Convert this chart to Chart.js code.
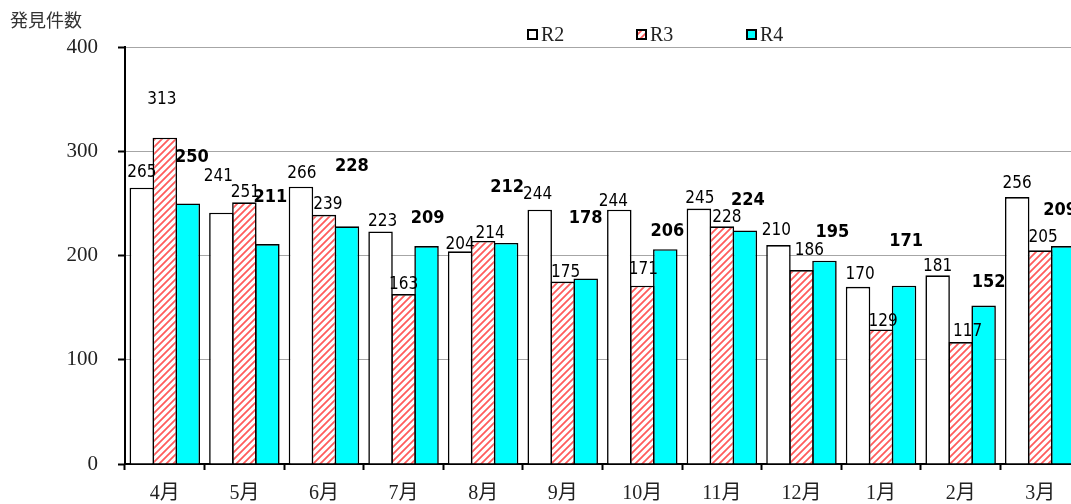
<!DOCTYPE html>
<html lang="ja">
<head>
<meta charset="utf-8">
<title>発見件数</title>
<script src="https://cdn.jsdelivr.net/npm/chart.js@4.4.0/dist/chart.umd.min.js"></script>
<style>
    body { margin: 0; background: #fff; overflow: hidden; }
    #wrap { width: 1080px; height: 504px; }
</style>
</head>
<body>
<div id="wrap"><canvas id="hakkenChart" width="1080" height="504"></canvas></div>
<script>
        const months = ['4月', '5月', '6月', '7月', '8月', '9月', '10月', '11月', '12月', '1月', '2月', '3月'];
        const r2Values = [265, 241, 266, 223, 204, 244, 244, 245, 210, 170, 181, 256];
        const r3Values = [313, 251, 239, 163, 214, 175, 171, 228, 186, 129, 117, 205];
        const r4Values = [250, 211, 228, 209, 212, 178, 206, 224, 195, 171, 152, 209];
        const yTicks = [0, 100, 200, 300, 400];

        // where each value label sits relative to its bar top: [dx, lift]
        const r2LabelShift = [[0, 15], [-3, 36], [1, 13], [2, 10], [0, 7], [-2, 15], [-6, 8], [1, 10], [-2, 14], [2, 12], [0, 9], [0, 14]];
        const r3LabelShift = [[-3, 38], [1, 10], [4, 10], [0, 9], [7, 7], [3, 9], [1, 16], [5, 9], [8, 20], [2, 8], [7, 10], [3, 13]];
        const r4LabelShift = [[4, 46], [3, 47], [5, 60], [1, 28], [1, 56], [0, 60], [2, 18], [3, 30], [8, 28], [2, 44], [5, 23], [-3, 36]];

        const chartCanvas = document.getElementById('hakkenChart');

        function makeHatch() {
            const tile = document.createElement('canvas');
            tile.width = 7;
            tile.height = 7;
            const c = tile.getContext('2d');
            c.fillStyle = '#ffffff';
            c.fillRect(0, 0, 7, 7);
            c.strokeStyle = '#ff5c5c';
            c.lineWidth = 1.8;
            c.beginPath();
            c.moveTo(-1, 8); c.lineTo(8, -1);
            c.moveTo(-4.5, 4.5); c.lineTo(4.5, -4.5);
            c.moveTo(2.5, 11.5); c.lineTo(11.5, 2.5);
            c.stroke();
            return chartCanvas.getContext('2d').createPattern(tile, 'repeat');
        }

        const hatch = makeHatch();

        const valueLabels = {
            id: 'valueLabels',
            afterDatasetsDraw(chart) {
                const ctx = chart.ctx;
                const shifts = [r2LabelShift, r3LabelShift, r4LabelShift];
                ctx.save();
                ctx.textAlign = 'center';
                ctx.textBaseline = 'middle';
                ctx.fillStyle = '#000';
                chart.data.datasets.forEach((ds, di) => {
                    const meta = chart.getDatasetMeta(di);
                    ctx.font = di === 2
                        ? 'bold 18px "DejaVu Sans Condensed", "DejaVu Sans", sans-serif'
                        : '17px "DejaVu Sans Condensed", "DejaVu Sans", sans-serif';
                    meta.data.forEach((bar, i) => {
                        const s = shifts[di][i];
                        ctx.fillText(String(ds.data[i]), bar.x + s[0], bar.y - s[1]);
                    });
                });
                ctx.restore();
            }
        };

        const headerBits = {
            id: 'headerBits',
            afterDraw(chart) {
                const ctx = chart.ctx;
                ctx.save();
                ctx.fillStyle = '#333';
                ctx.font = '18px "Noto Sans CJK JP", sans-serif';
                ctx.textBaseline = 'middle';
                ctx.textAlign = 'left';
                ctx.fillText('発見件数', 10, 20);

                // legend
                const legendX = [528, 637, 747];
                chart.data.datasets.forEach((ds, i) => {
                    const x = legendX[i];
                    ctx.fillStyle = ds.backgroundColor;
                    ctx.fillRect(x, 30, 9, 9);
                    ctx.strokeStyle = '#000';
                    ctx.lineWidth = 2;
                    ctx.strokeRect(x, 30, 9, 9);
                    ctx.fillStyle = '#222';
                    ctx.font = '20px "Liberation Serif", serif';
                    ctx.fillText(ds.label, x + 13, 36);
                });
                ctx.restore();
            }
        };

        new Chart(chartCanvas, {
            type: 'bar',
            data: {
                labels: months,
                datasets: [
                    { label: 'R2', data: r2Values, backgroundColor: '#ffffff', borderColor: '#000', borderWidth: 1.6 },
                    { label: 'R3', data: r3Values, backgroundColor: hatch, borderColor: '#000', borderWidth: 1.6 },
                    { label: 'R4', data: r4Values, backgroundColor: '#00ffff', borderColor: '#000', borderWidth: 1.6 }
                ]
            },
            options: {
                responsive: false,
                animation: false,
                layout: { padding: { top: 47, left: 0, right: 0, bottom: 0 } },
                plugins: {
                    legend: { display: false },
                    tooltip: { enabled: false }
                },
                datasets: {
                    // bars slightly wider than their slot so neighbours share one border line
                    bar: { categoryPercentage: 0.867, barPercentage: 1.065 }
                },
                scales: {
                    x: {
                        grid: { offset: true, drawOnChartArea: false, tickLength: 6, tickColor: '#000', tickWidth: 2 },
                        border: { color: '#000', width: 2 },
                        ticks: {
                            color: '#222',
                            padding: 12,
                            maxRotation: 0,
                            font: { family: '"Liberation Serif", "Noto Sans CJK JP", serif', size: 20 }
                        },
                        afterFit(scale) { scale.height = 40; }
                    },
                    y: {
                        min: yTicks[0],
                        max: yTicks[yTicks.length - 1],
                        afterBuildTicks(scale) { scale.ticks = yTicks.map(v => ({ value: v })); },
                        grid: { color: '#a6a6a6', lineWidth: 1, tickLength: 7, tickColor: '#000', tickWidth: 2 },
                        border: { color: '#000', width: 2 },
                        ticks: {
                            color: '#222',
                            padding: 20,
                            font: { family: '"Liberation Serif", serif', size: 21 }
                        },
                        afterFit(scale) { scale.width = 125; }
                    }
                }
            },
            plugins: [valueLabels, headerBits]
        });
</script>
</body>
</html>
